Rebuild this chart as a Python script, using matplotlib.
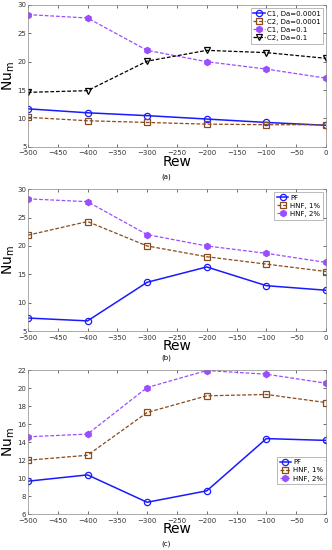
import matplotlib
matplotlib.use("Agg")
import matplotlib.pyplot as plt

rew = [-500, -400, -300, -200, -100, 0]

# Panel (a)
a_c1_da4 = [11.7, 11.0, 10.5, 9.9, 9.3, 8.8]
a_c2_da4 = [10.2, 9.6, 9.3, 9.0, 8.9, 8.9]
a_c1_da1 = [28.3, 27.7, 22.0, 20.0, 18.7, 17.1]
a_c2_da1 = [14.6, 14.9, 20.1, 22.0, 21.6, 20.6]
a_labels = ["C1, Da=0.0001", "C2, Da=0.0001", "C1, Da=0.1", "C2, Da=0.1"]

# Panel (b)
b_pf = [7.3, 6.8, 13.6, 16.3, 13.0, 12.2]
b_hnf1 = [21.9, 24.3, 20.0, 18.1, 16.8, 15.5]
b_hnf2 = [28.3, 27.8, 22.0, 20.0, 18.7, 17.1]

# Panel (c)
c_pf = [9.67, 10.37, 7.33, 8.6, 14.4, 14.2]
c_hnf1 = [12.0, 12.55, 17.3, 19.15, 19.3, 18.4]
c_hnf2 = [14.6, 14.9, 20.07, 21.96, 21.55, 20.55]
bc_labels = ["PF", "HNF, 1%", "HNF, 2%"]

xticks = list(range(-500, 1, 50))

BLUE = "#1a1aff"
BROWN = "#8b4a1a"
PURPLE = "#9b4dff"
BLACK = "#000000"
DASH = (0, (3, 1.5))

fig = plt.figure(figsize=(3.32, 5.5), dpi=100)

L, W = 0.084, 0.898
axa = fig.add_axes([L, 0.733, W, 0.258])
axb = fig.add_axes([L, 0.398, W, 0.258])
axc = fig.add_axes([L, 0.065, W, 0.262])


def style(ax, yticks, ylim, caption, caption_y):
    ax.set_xlim(-500, 0)
    ax.set_ylim(*ylim)
    ax.set_xticks(xticks)
    ax.set_yticks(yticks)
    ax.tick_params(labelsize=5, length=2, width=0.5, pad=1, direction="in",
                   colors="#333333", top=True, right=True)
    ax.tick_params(axis="x", pad=2.5)
    for s in ax.spines.values():
        s.set_linewidth(0.5)
        s.set_color("#888888")
    ax.set_xlabel("Rew", fontsize=10, labelpad=-1)
    ax.set_ylabel("Nu$_\\mathregular{m}$", fontsize=10, labelpad=0)
    ax.yaxis.set_label_coords(-0.035, 0.5)
    fig.text(0.5, caption_y, caption, ha="center", va="center", fontsize=5)


def series(ax, y, color, marker, ls, label, mfc="none"):
    ax.plot(rew, y, color=color, linestyle=ls, linewidth=1.1 if ls == "-" else 0.9,
            marker=marker, markersize=4.5, markerfacecolor=mfc,
            markeredgecolor=color, markeredgewidth=0.9, label=label)


def legend(ax, **kw):
    lg = ax.legend(fontsize=5, frameon=True, fancybox=False, edgecolor="#888888",
                   handlelength=1.6, borderpad=0.4, labelspacing=0.3,
                   handletextpad=0.3, **kw)
    lg.get_frame().set_linewidth(0.5)


series(axa, a_c1_da4, BLUE, "o", "-", a_labels[0])
series(axa, a_c2_da4, BROWN, "s", DASH, a_labels[1])
series(axa, a_c1_da1, PURPLE, "h", DASH, a_labels[2], mfc=PURPLE)
series(axa, a_c2_da1, BLACK, "v", DASH, a_labels[3])
style(axa, list(range(5, 31, 5)), (5, 30), "(a)", 1 - 177 / 550)
legend(axa, loc="upper right", borderaxespad=0.4)

series(axb, b_pf, BLUE, "o", "-", bc_labels[0])
series(axb, b_hnf1, BROWN, "s", DASH, bc_labels[1])
series(axb, b_hnf2, PURPLE, "h", DASH, bc_labels[2], mfc=PURPLE)
style(axb, list(range(5, 31, 5)), (5, 30), "(b)", 1 - 358 / 550)
legend(axb, loc="upper right", borderaxespad=0.4)

series(axc, c_pf, BLUE, "o", "-", bc_labels[0])
series(axc, c_hnf1, BROWN, "s", DASH, bc_labels[1])
series(axc, c_hnf2, PURPLE, "h", DASH, bc_labels[2], mfc=PURPLE)
style(axc, list(range(6, 23, 2)), (6, 22), "(c)", 1 - 544 / 550)
legend(axc, loc="upper right", bbox_to_anchor=(1.0, 0.40), borderaxespad=0.0)

fig.savefig("out.png", dpi=100)
